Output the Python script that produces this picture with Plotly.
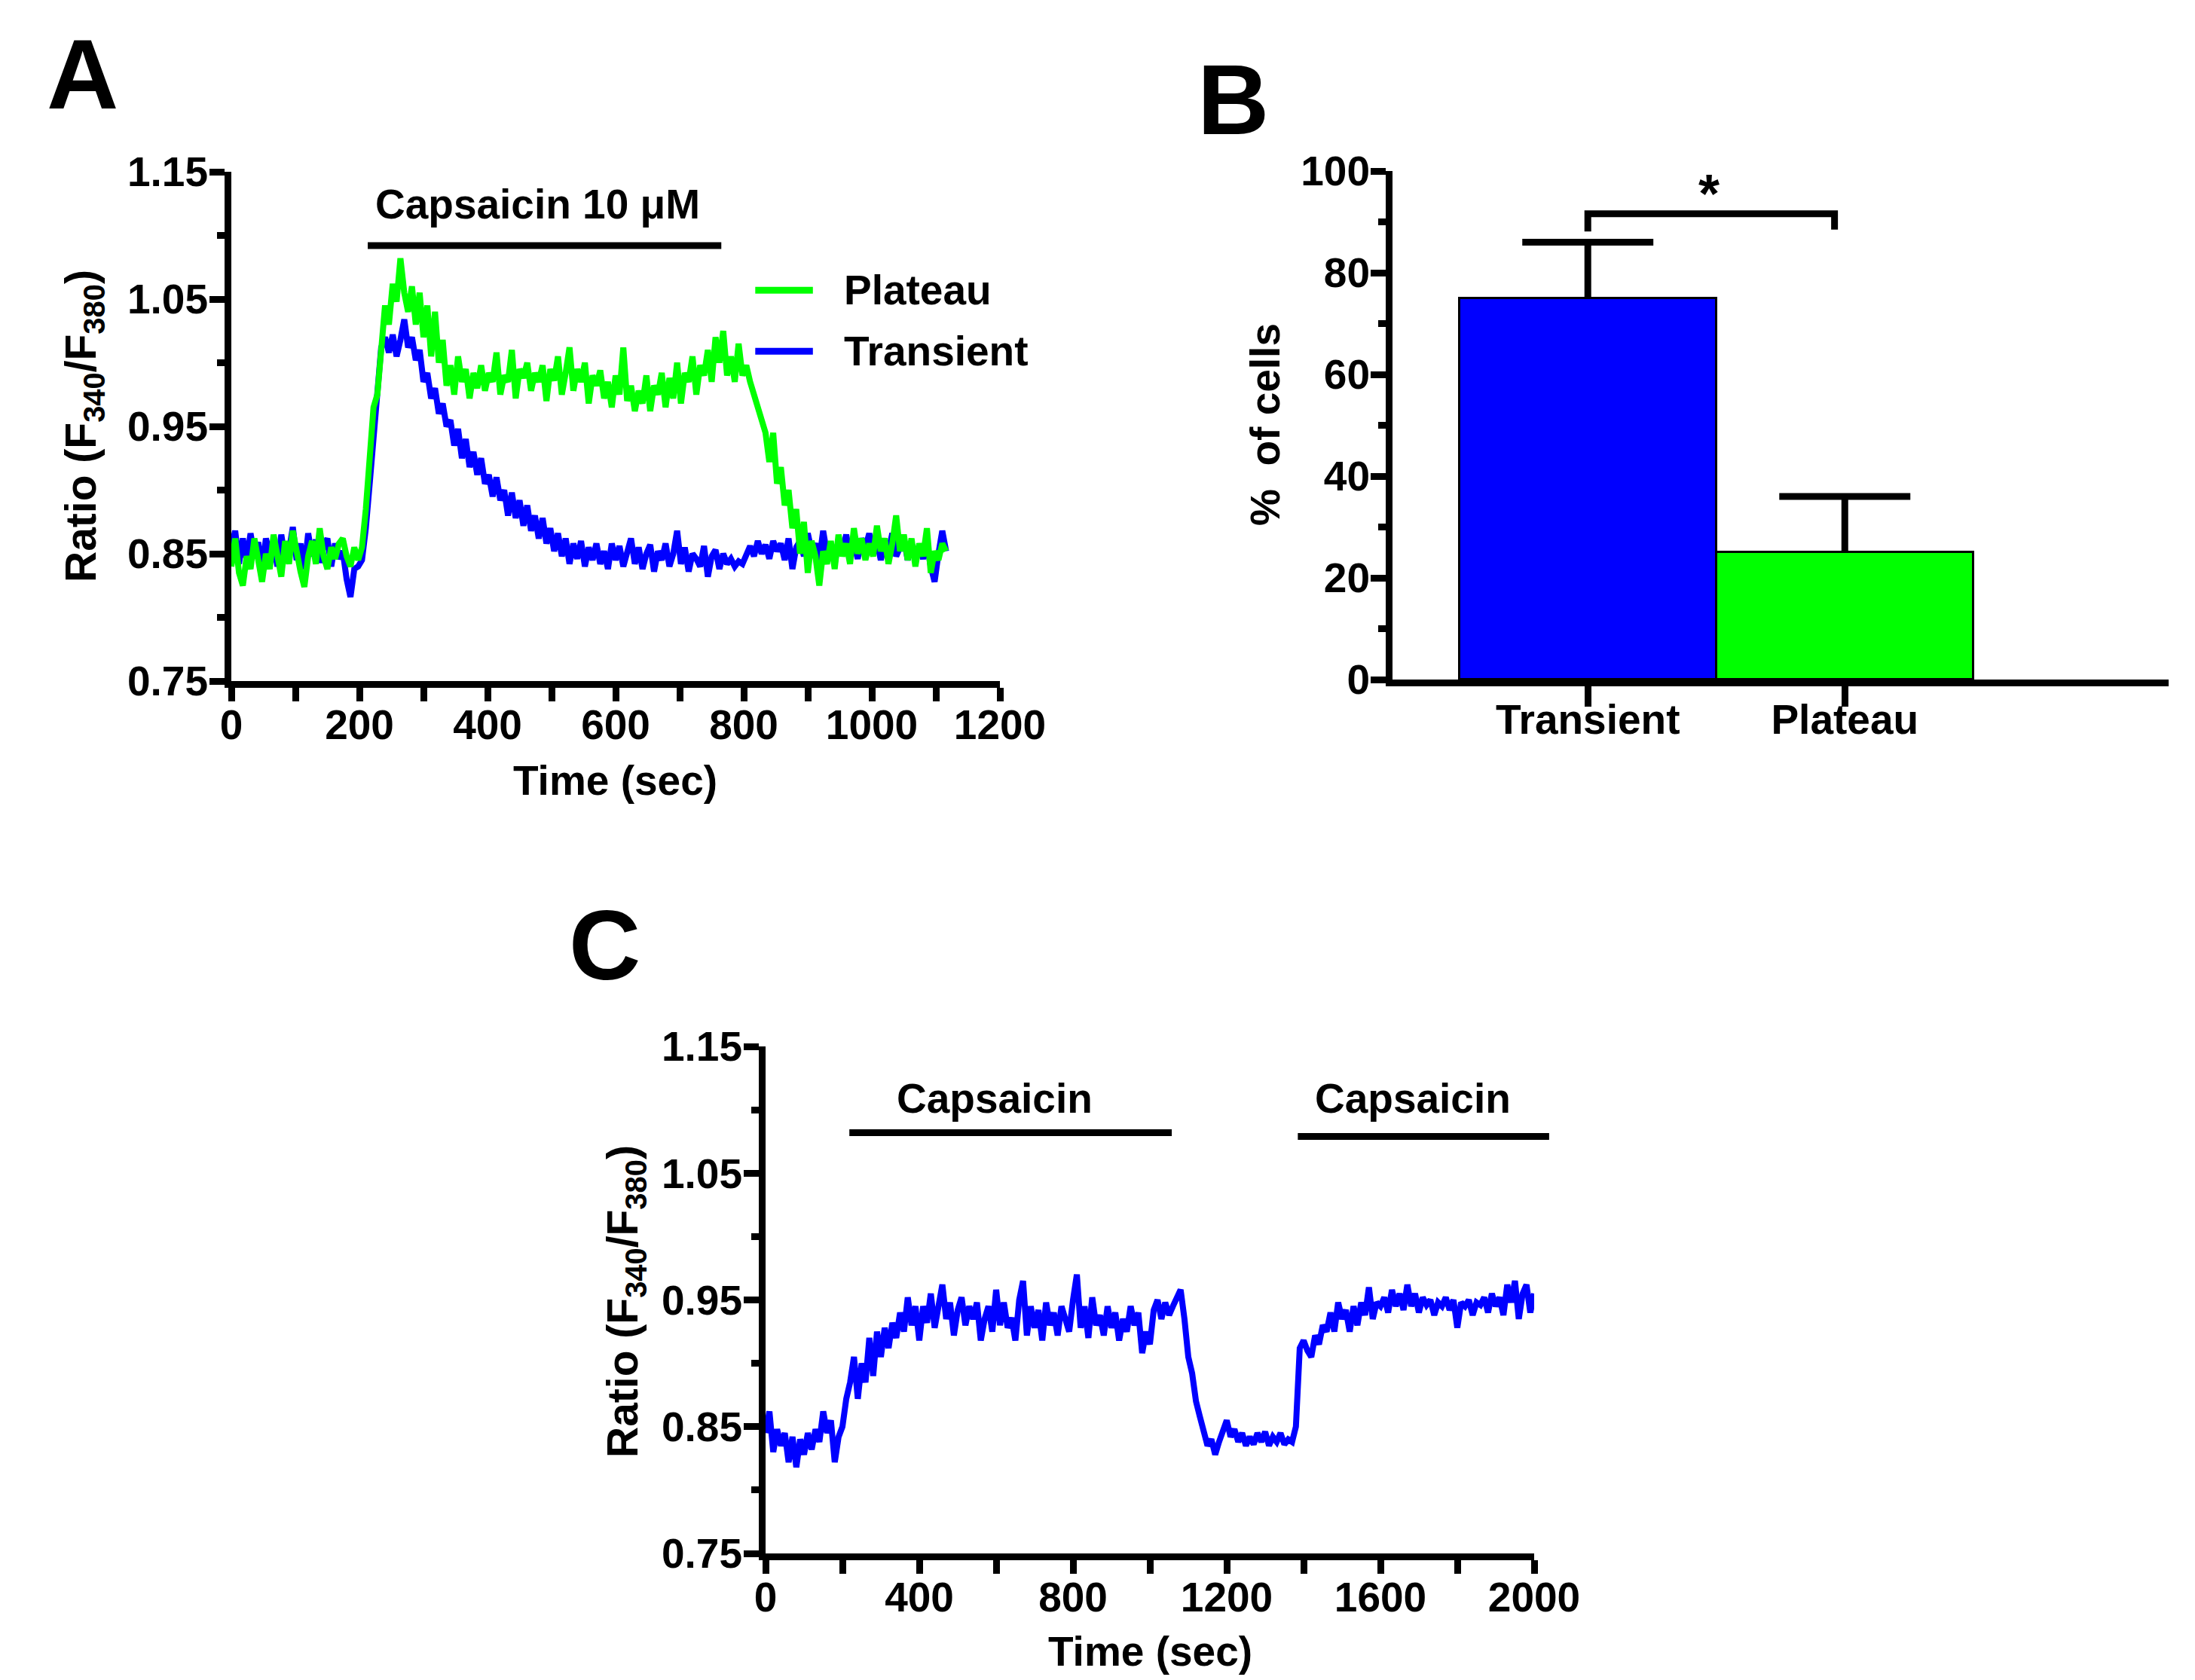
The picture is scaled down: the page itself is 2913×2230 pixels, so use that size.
import plotly.graph_objects as go

# ---------------- DATA ----------------
# Panel A: ratio traces sampled every 6 s starting at 0 s
A_SAMPLE_STEP = 6
transient_ratio = [
    0.855, 0.868, 0.842, 0.862, 0.845, 0.866, 0.848, 0.859, 0.838, 0.862,
    0.850, 0.857, 0.840, 0.865, 0.846, 0.852, 0.871, 0.845, 0.858, 0.838,
    0.866, 0.848, 0.861, 0.843, 0.856, 0.862, 0.840, 0.858, 0.846, 0.852,
    0.830, 0.816, 0.838, 0.840,
    0.845, 0.870, 0.905, 0.945, 0.985, 1.012, 1.020, 1.008, 1.022, 1.005,
    1.018, 1.034, 1.012, 1.020, 1.002, 1.010, 0.985, 0.992, 0.972, 0.980,
    0.960, 0.968, 0.950, 0.955, 0.935, 0.948, 0.925, 0.940, 0.918, 0.930,
    0.912, 0.925, 0.905, 0.912, 0.895, 0.910, 0.892, 0.900, 0.880, 0.898,
    0.878, 0.892, 0.872, 0.888, 0.868, 0.880, 0.862, 0.878, 0.858, 0.870,
    0.852, 0.866, 0.848, 0.862, 0.842, 0.858, 0.846, 0.860, 0.840, 0.855,
    0.845, 0.858, 0.842, 0.852, 0.838, 0.858, 0.845,
    0.856, 0.840, 0.852, 0.862, 0.842, 0.855, 0.838, 0.850, 0.857, 0.836,
    0.852, 0.845, 0.858, 0.840, 0.850, 0.868, 0.842, 0.855, 0.836, 0.850,
    0.846, 0.840, 0.856, 0.832, 0.848, 0.853, 0.838, 0.850, 0.842, 0.846,
    0.840, 0.844, 0.842, 0.850, 0.856, 0.848, 0.860, 0.850, 0.857, 0.846,
    0.860, 0.852, 0.858, 0.845, 0.862, 0.838, 0.855, 0.860, 0.848, 0.866,
    0.852, 0.858, 0.845, 0.868, 0.850, 0.856, 0.842, 0.860, 0.852, 0.865,
    0.848, 0.858, 0.846, 0.862, 0.855, 0.866, 0.850, 0.860, 0.845, 0.858,
    0.852, 0.866, 0.848, 0.855, 0.862, 0.845, 0.858, 0.850, 0.856, 0.846,
    0.858, 0.840, 0.828, 0.850, 0.868, 0.852,
]
plateau_ratio = [
    0.840, 0.862, 0.835, 0.825, 0.848, 0.838, 0.862, 0.842, 0.828, 0.850,
    0.838, 0.865, 0.845, 0.832, 0.860, 0.842, 0.868, 0.850, 0.836, 0.824,
    0.848, 0.860, 0.842, 0.870, 0.848, 0.838, 0.855, 0.846, 0.858, 0.862,
    0.848, 0.840, 0.855, 0.845,
    0.855, 0.885, 0.925, 0.965, 0.975, 1.010, 1.045, 1.030, 1.062, 1.048,
    1.082, 1.055, 1.040, 1.060, 1.030, 1.055, 1.020, 1.045, 1.005, 1.040,
    1.000, 1.018, 0.982, 0.998, 0.975, 1.005, 0.985, 0.995, 0.972, 0.992,
    0.980, 0.998, 0.978, 0.992, 0.985, 1.008, 0.975, 0.990, 0.985, 1.010,
    0.972, 0.995, 0.988, 1.000, 0.978, 0.992, 0.985, 0.998, 0.970, 0.995,
    0.986, 1.005, 0.975, 0.992, 1.012, 0.978, 0.995, 0.985, 1.000, 0.968,
    0.990, 0.982, 0.994, 0.972, 0.985, 0.965, 0.990, 0.975, 1.012, 0.970,
    0.982, 0.962, 0.978, 0.968, 0.990, 0.962, 0.982, 0.975, 0.992, 0.965,
    0.988, 0.972, 1.000, 0.968, 0.992, 0.985, 1.005, 0.975, 0.998, 0.990,
    1.010, 0.985, 1.020, 1.000, 1.025, 0.990, 1.005, 0.985, 1.015, 0.990,
    0.998, 0.985, 0.975, 0.968, 0.955, 0.945, 0.922, 0.945, 0.905, 0.918,
    0.888, 0.900, 0.870, 0.885, 0.850, 0.875, 0.835, 0.860, 0.848, 0.825,
    0.852, 0.842, 0.860, 0.838, 0.865, 0.848, 0.858, 0.842, 0.870, 0.850,
    0.862, 0.845, 0.858, 0.848, 0.872, 0.852, 0.862, 0.842, 0.858, 0.880,
    0.852, 0.865, 0.845, 0.862, 0.840, 0.858, 0.848, 0.870, 0.835, 0.852,
    0.845, 0.858, 0.852,
]

# Panel B: percentage of cells
bar_categories = ["Transient", "Plateau"]
bar_percent = [75, 25]
bar_sem = [11, 11]
sig_bracket_x = [0, 0, 0.96, 0.96]
sig_bracket_y = [88.1, 91.6, 91.6, 88.5]

# Panel C: ratio trace sampled every 10 s starting at 0 s
C_SAMPLE_STEP = 10
repeat_ratio = [
    0.845, 0.862, 0.830, 0.848, 0.835, 0.845, 0.822, 0.842, 0.818, 0.840,
    0.828, 0.845, 0.832, 0.848, 0.838, 0.862, 0.845, 0.855, 0.822, 0.842,
    0.850,
    0.872, 0.885, 0.905, 0.872, 0.900, 0.885, 0.920, 0.890, 0.925, 0.905,
    0.928, 0.912, 0.932, 0.920, 0.940, 0.925, 0.952, 0.930, 0.945, 0.918,
    0.945, 0.932, 0.955, 0.928, 0.948, 0.962, 0.935, 0.948, 0.922, 0.942,
    0.952, 0.930, 0.945, 0.935, 0.948, 0.918, 0.935, 0.945, 0.925, 0.958,
    0.930, 0.948, 0.928, 0.936, 0.918, 0.950, 0.965, 0.922, 0.945, 0.928,
    0.942, 0.918, 0.948, 0.930, 0.940, 0.922, 0.945, 0.935, 0.925, 0.950,
    0.970, 0.928, 0.945, 0.920, 0.952, 0.930, 0.938, 0.922, 0.945, 0.928,
    0.940, 0.918, 0.935, 0.925, 0.945, 0.930, 0.940, 0.908, 0.925, 0.915,
    0.942, 0.950, 0.935, 0.948, 0.938, 0.945, 0.952, 0.958, 0.935, 0.905,
    0.892, 0.870, 0.858, 0.845, 0.835, 0.840, 0.828, 0.838, 0.848, 0.855,
    0.842, 0.848, 0.838, 0.845, 0.835, 0.842, 0.836, 0.845, 0.838, 0.846,
    0.835, 0.842, 0.838, 0.845, 0.836, 0.840, 0.838, 0.850,
    0.912, 0.918, 0.910, 0.905, 0.922, 0.915, 0.930, 0.925, 0.940, 0.925,
    0.948, 0.935, 0.942, 0.925, 0.945, 0.930, 0.948, 0.938, 0.960, 0.935,
    0.948, 0.945, 0.952, 0.940, 0.958, 0.945, 0.955, 0.942, 0.962, 0.945,
    0.955, 0.940, 0.952, 0.946, 0.950, 0.938, 0.948, 0.945, 0.952, 0.942,
    0.950, 0.928, 0.948, 0.945, 0.950, 0.938, 0.948, 0.946, 0.952, 0.940,
    0.955, 0.945, 0.952, 0.938, 0.962, 0.948, 0.965, 0.935, 0.955, 0.962,
    0.940, 0.955,
]

# Stimulus periods (sec) and bar level
A_stim = [213, 765]
A_stim_level = 1.092
C_stim1 = [218, 1057]
C_stim2 = [1385, 2039]
C_stim_level = [1.082, 1.079]

ratio_ticks = [0.75, 0.85, 0.95, 1.05, 1.15]

# ---------------- LAYOUT CONSTANTS ----------------
W, H = 2913, 2230
FONT = "Liberation Sans, Arial, Helvetica, sans-serif"
FS = 55
LW = 9
TRACE_W = 8
BLUE = "#0000FF"
GREEN = "#00FF00"


def px_x(p):
    return p / W


def px_y(p):
    return 1 - p / H


A_dom_x = [px_x(307), px_x(1327)]
A_dom_y = [px_y(904), px_y(228)]
B_dom_x = [px_x(1848), px_x(2878)]
B_dom_y = [px_y(902), px_y(227)]
C_dom_x = [px_x(1016), px_x(2036)]
C_dom_y = [px_y(2062), px_y(1389)]

A_xr, A_yr = [0, 1200], [0.75, 1.15]
B_xr, B_yr = [-0.76, 2.26], [0, 100]
C_xr, C_yr = [0, 2000], [0.75, 1.15]
ERR_CAP_HALF = 0.255  # half width of error-bar caps in category units


def to_paper(v, rng, dom):
    return dom[0] + (v - rng[0]) / (rng[1] - rng[0]) * (dom[1] - dom[0])


tA_tr = [i * A_SAMPLE_STEP for i in range(len(transient_ratio))]
tA_pl = [i * A_SAMPLE_STEP for i in range(len(plateau_ratio))]
tC = [i * C_SAMPLE_STEP for i in range(len(repeat_ratio))]

fig = go.Figure()

fig.add_trace(go.Scatter(x=tA_tr, y=transient_ratio, mode="lines",
                         line=dict(color=BLUE, width=TRACE_W), xaxis="x", yaxis="y",
                         showlegend=False))
fig.add_trace(go.Scatter(x=tA_pl, y=plateau_ratio, mode="lines",
                         line=dict(color=GREEN, width=TRACE_W), xaxis="x", yaxis="y",
                         showlegend=False))

fig.add_trace(go.Bar(x=[0, 1], y=bar_percent, width=1,
                     marker=dict(color=[BLUE, GREEN], line=dict(color="black", width=3)),
                     xaxis="x2", yaxis="y2", showlegend=False))
# upper-only error bars (stem + cap)
err_x, err_y = [], []
for i, (v, e) in enumerate(zip(bar_percent, bar_sem)):
    err_x += [i, i, None, i - ERR_CAP_HALF, i + ERR_CAP_HALF, None]
    err_y += [v, v + e, None, v + e, v + e, None]
fig.add_trace(go.Scatter(x=err_x, y=err_y, mode="lines",
                         line=dict(color="black", width=LW), xaxis="x2", yaxis="y2",
                         showlegend=False))
fig.add_trace(go.Scatter(x=sig_bracket_x, y=sig_bracket_y, mode="lines",
                         line=dict(color="black", width=LW), xaxis="x2", yaxis="y2",
                         showlegend=False))

fig.add_trace(go.Scatter(x=tC, y=repeat_ratio, mode="lines",
                         line=dict(color=BLUE, width=TRACE_W), xaxis="x3", yaxis="y3",
                         showlegend=False))

tickfont = dict(family=FONT, size=FS, color="black", weight="bold")


def ax_common():
    return dict(showline=True, linewidth=LW, linecolor="black", ticks="outside",
                tickwidth=LW, tickcolor="black", showgrid=False, zeroline=False,
                tickfont=tickfont, fixedrange=True, automargin=False)


layout = dict(
    width=W, height=H, margin=dict(l=0, r=0, t=0, b=0, pad=0),
    paper_bgcolor="white", plot_bgcolor="white", showlegend=False,
    font=dict(family=FONT, size=FS, color="black"),
    bargap=0,
)

layout["xaxis"] = dict(ax_common(), domain=A_dom_x, range=A_xr, anchor="y",
                       tick0=0, dtick=200, ticklen=18, ticklabelstandoff=-16,
                       minor=dict(dtick=100, ticklen=18, tickwidth=LW, ticks="outside",
                                  tickcolor="black", showgrid=False))
layout["yaxis"] = dict(ax_common(), domain=A_dom_y, range=A_yr, anchor="x",
                       tickvals=ratio_ticks, tickformat=".2f", ticklen=20,
                       ticklabelstandoff=-9,
                       minor=dict(tick0=0.75, dtick=0.05, ticklen=10, tickwidth=LW,
                                  ticks="outside", tickcolor="black", showgrid=False))
layout["xaxis2"] = dict(ax_common(), domain=B_dom_x, range=B_xr, anchor="y2",
                        tickvals=[0, 1], ticktext=bar_categories, ticklen=27,
                        ticklabelstandoff=-30)
layout["yaxis2"] = dict(ax_common(), domain=B_dom_y, range=B_yr, anchor="x2",
                        tick0=0, dtick=20, ticklen=20, ticklabelstandoff=-10,
                        minor=dict(dtick=10, ticklen=10, tickwidth=LW, ticks="outside",
                                   tickcolor="black", showgrid=False))
layout["xaxis3"] = dict(ax_common(), domain=C_dom_x, range=C_xr, anchor="y3",
                        tick0=0, dtick=400, ticklen=18, ticklabelstandoff=-16,
                        minor=dict(dtick=200, ticklen=18, tickwidth=LW, ticks="outside",
                                   tickcolor="black", showgrid=False))
layout["yaxis3"] = dict(ax_common(), domain=C_dom_y, range=C_yr, anchor="x3",
                        tickvals=ratio_ticks, tickformat=".2f", ticklen=20,
                        ticklabelstandoff=-9,
                        minor=dict(tick0=0.75, dtick=0.05, ticklen=10, tickwidth=LW,
                                   ticks="outside", tickcolor="black", showgrid=False))

fig.update_layout(**layout)

shapes = []


def hbar(x0, x1, y, xr, yr, dx, dy, color="black"):
    shapes.append(dict(type="line", xref="paper", yref="paper",
                       x0=to_paper(x0, xr, dx), x1=to_paper(x1, xr, dx),
                       y0=to_paper(y, yr, dy), y1=to_paper(y, yr, dy),
                       line=dict(color=color, width=LW)))


hbar(A_stim[0], A_stim[1], A_stim_level, A_xr, A_yr, A_dom_x, A_dom_y)
hbar(C_stim1[0], C_stim1[1], C_stim_level[0], C_xr, C_yr, C_dom_x, C_dom_y)
hbar(C_stim2[0], C_stim2[1], C_stim_level[1], C_xr, C_yr, C_dom_x, C_dom_y)
# legend samples (panel A)
hbar(818, 908, 1.057, A_xr, A_yr, A_dom_x, A_dom_y, GREEN)
hbar(818, 908, 1.009, A_xr, A_yr, A_dom_x, A_dom_y, BLUE)

annotations = []


def txt(text, x, y, size=FS, angle=0, xanchor="center", xref="paper", yref="paper"):
    annotations.append(dict(text=text, x=x, y=y, xref=xref, yref=yref, showarrow=False,
                            xanchor=xanchor, yanchor="middle", textangle=angle,
                            font=dict(family=FONT, size=size, color="black", weight="bold")))


ratio_title = "Ratio (F<sub>340</sub>/F<sub>380</sub>)"
txt("A", px_x(110), px_y(99), size=132)
txt("B", px_x(1637), px_y(132), size=132)
txt("C", px_x(802), px_y(1254), size=132)

txt(ratio_title, px_x(111), px_y(566), angle=-90, size=57)
txt("Time (sec)", px_x(816), px_y(1036))
txt("Capsaicin 10 μM", 478, 1.1245, xref="x", yref="y")
txt("Plateau", 954, 1.057, xanchor="left", xref="x", yref="y")
txt("Transient", 954, 1.009, xanchor="left", xref="x", yref="y")

txt("%  of cells", px_x(1679), px_y(564), angle=-90)
txt("*", 0.47, 95.5, xref="x2", yref="y2", size=72)

txt(ratio_title, px_x(830), px_y(1728), angle=-90, size=57)
txt("Time (sec)", px_x(1526), px_y(2192))
txt("Capsaicin", 596, 1.109, xref="x3", yref="y3")
txt("Capsaicin", 1685, 1.109, xref="x3", yref="y3")

fig.update_layout(shapes=shapes, annotations=annotations)

fig.write_html("out.html", post_script="document.body.style.margin='0';",
               config={"displayModeBar": False})
